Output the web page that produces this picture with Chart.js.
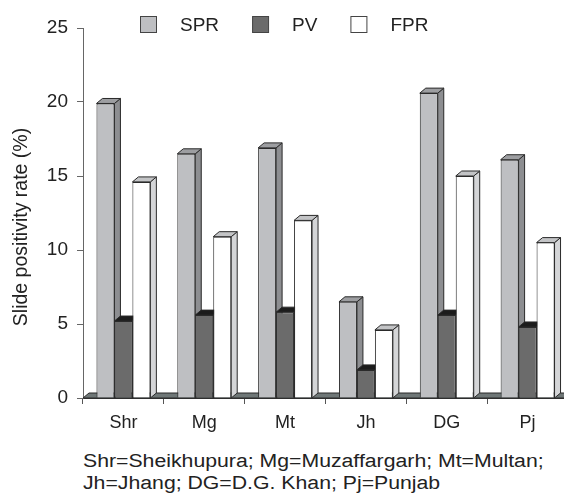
<!DOCTYPE html>
<html>
<head>
<meta charset="utf-8">
<script src="https://cdn.jsdelivr.net/npm/chart.js@4.4.0/dist/chart.umd.min.js"></script>
<style>
    html, body { margin: 0; padding: 0; background: #fff; overflow: hidden; }
    #contenedor { position: relative; width: 570px; height: 494px; }
    #nota {
        position: absolute; left: 83px; top: 450px;
        font: 18px "Liberation Sans", Arial, sans-serif;
        line-height: 22px; color: #222; white-space: nowrap;
        transform: scaleX(1.18); transform-origin: left top;
    }
</style>
</head>
<body>
<div id="contenedor">
    <canvas id="grafica" width="570" height="440"></canvas>
    <div id="nota">Shr=Sheikhupura; Mg=Muzaffargarh; Mt=Multan;<br>Jh=Jhang; DG=D.G. Khan; Pj=Punjab</div>
</div>
<script>
const distritos = ["Shr", "Mg", "Mt", "Jh", "DG", "Pj"];
const spr = [19.9, 16.5, 16.9, 6.5, 20.6, 16.1];
const pv  = [5.2, 5.6, 5.8, 1.9, 5.6, 4.8];
const fpr = [14.6, 10.9, 12.0, 4.6, 15.0, 10.5];
const ejeY = [0, 5, 10, 15, 20, 25];
const tituloY = "Slide positivity rate (%)";

const fuente = "'Liberation Sans', Arial, sans-serif";
const fuenteEstrecha = "'Liberation Sans Narrow', 'Arial Narrow', 'Liberation Sans', Arial, sans-serif";

// caras laterales y superiores (efecto 3D)
const dx = 6, dy = 5;
const caras = {
    SPR: { lado: "#8d8e91", arriba: "#9d9ea1" },
    PV:  { lado: "#4a4a4a", arriba: "#1c1c1c" },
    FPR: { lado: "#d4d5d7", arriba: "#c3c4c6" }
};

function poligono(ctx, pts, color) {
    ctx.beginPath();
    ctx.moveTo(pts[0][0], pts[0][1]);
    for (let k = 1; k < pts.length; k++) ctx.lineTo(pts[k][0], pts[k][1]);
    ctx.closePath();
    ctx.fillStyle = color;
    ctx.fill();
    ctx.stroke();
}

const barras3d = {
    id: "barras3d",
    beforeDatasetsDraw(chart) {
        const ctx = chart.ctx;
        const area = chart.chartArea;
        const y0 = chart.scales.y.getPixelForValue(0);
        ctx.save();
        ctx.lineWidth = 1;
        ctx.strokeStyle = "#2a2a2a";
        // piso
        poligono(ctx, [[area.left, y0], [area.left + dx, y0 - dy], [area.right + dx, y0 - dy], [area.right, y0]], "#6f7777");
        for (let i = 0; i < chart.data.labels.length; i++) {
            chart.data.datasets.forEach((ds, d) => {
                const b = chart.getDatasetMeta(d).data[i];
                const l = b.x - b.width / 2, r = b.x + b.width / 2, t = b.y;
                const c = caras[ds.label];
                poligono(ctx, [[r, t], [r + dx, t - dy], [r + dx, y0 - dy], [r, y0]], c.lado);
                poligono(ctx, [[l, t], [l + dx, t - dy], [r + dx, t - dy], [r, t]], c.arriba);
            });
        }
        ctx.restore();
    }
};

const textos = {
    id: "textos",
    afterDraw(chart) {
        const ctx = chart.ctx;
        ctx.save();
        ctx.font = "19px " + fuente;
        ctx.textBaseline = "middle";
        let x = 140;
        const y = 25;
        chart.data.datasets.forEach(ds => {
            ctx.fillStyle = ds.backgroundColor;
            ctx.fillRect(x + 0.5, y - 8.5, 16, 16);
            ctx.strokeStyle = "#444";
            ctx.lineWidth = 1;
            ctx.strokeRect(x + 0.5, y - 8.5, 16, 16);
            ctx.fillStyle = "#222";
            ctx.fillText(ds.label, x + 40, y + 1);
            x += 40 + ctx.measureText(ds.label).width + 33;
        });
        // titulo del eje y
        ctx.font = "19.5px " + fuente;
        ctx.translate(22, 227);
        ctx.rotate(-Math.PI / 2);
        ctx.textAlign = "center";
        ctx.fillText(tituloY, 0, 0);
        ctx.restore();
    }
};

const ctx = document.getElementById("grafica").getContext("2d");

new Chart(ctx, {
    type: "bar",
    data: {
        labels: distritos,
        datasets: [
            { label: "SPR", data: spr, backgroundColor: "#bebfc2" },
            { label: "PV",  data: pv,  backgroundColor: "#6b6b6b" },
            { label: "FPR", data: fpr, backgroundColor: "#ffffff" }
        ]
    },
    options: {
        responsive: false,
        animation: false,
        layout: { padding: { top: 28, right: 2, left: 0, bottom: 0 } },
        datasets: {
            bar: {
                borderColor: "#2a2a2a",
                borderWidth: 1,
                categoryPercentage: 0.667,
                barPercentage: 1.0
            }
        },
        plugins: {
            legend: { display: false },
            tooltip: { enabled: false }
        },
        scales: {
            x: {
                afterFit: s => { s.height = 42; },
                grid: { drawOnChartArea: false, tickLength: 6, color: "#555", offset: true },
                border: { color: "#333" },
                ticks: { color: "#222", font: { family: fuenteEstrecha, size: 18 }, padding: 8 }
            },
            y: {
                min: 0,
                max: 25,
                afterFit: s => { s.width = 83; },
                afterBuildTicks: s => { s.ticks = ejeY.map(v => ({ value: v })); },
                grid: { drawOnChartArea: false, tickLength: 6, color: "#666" },
                border: { color: "#666" },
                ticks: { color: "#222", font: { family: fuente, size: 19 }, padding: 9 }
            }
        }
    },
    plugins: [barras3d, textos]
});
</script>
</body>
</html>
